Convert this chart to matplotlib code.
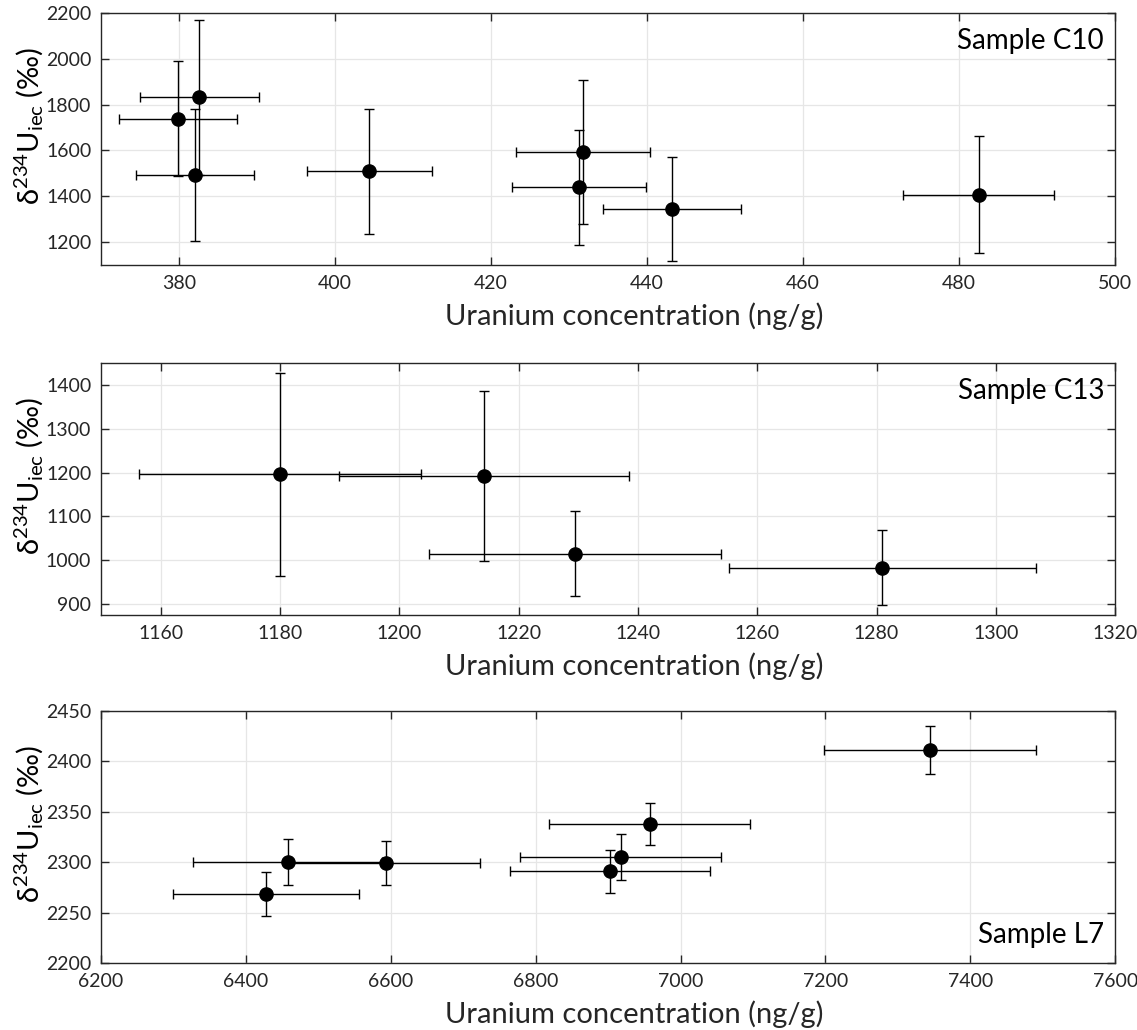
import matplotlib
matplotlib.use('Agg')
import matplotlib.pyplot as plt
import numpy as np

plt.rcParams['font.family'] = ['Lato', 'DejaVu Sans']
plt.rcParams['mathtext.default'] = 'regular'

# Sample C10
c10_x = [379.9, 382.6, 382.05, 404.4, 431.75, 431.3, 443.25, 482.5]
c10_y = [1739, 1832, 1494, 1509, 1593, 1439, 1346, 1407]
c10_xerr = [7.6, 7.65, 7.6, 8.0, 8.6, 8.6, 8.85, 9.65]
c10_yerr = [251, 339, 288, 273, 315, 252, 227, 255]

# Sample C13
c13_x = [1180.0, 1214.2, 1229.5, 1281.0]
c13_y = [1196, 1192, 1015, 983]
c13_xerr = [23.6, 24.3, 24.5, 25.8]
c13_yerr = [231, 194, 97.5, 85]

# Sample L7
l7_x = [6427.5, 6457.5, 6592.8, 6902.4, 6917.4, 6957.5, 7344.3]
l7_y = [2268.5, 2300.5, 2299.2, 2290.9, 2305.5, 2337.6, 2411.6]
l7_xerr = [128, 130, 131, 138, 139, 139, 146]
l7_yerr = [22, 22.6, 22, 21.6, 23, 21, 24]

panels = [
    (c10_x, c10_y, c10_xerr, c10_yerr, (370, 500), (1100, 2200),
     np.arange(380, 501, 20), np.arange(1200, 2201, 200), 'Sample C10', 'top'),
    (c13_x, c13_y, c13_xerr, c13_yerr, (1150, 1320), (875, 1450),
     np.arange(1160, 1321, 20), np.arange(900, 1401, 100), 'Sample C13', 'top'),
    (l7_x, l7_y, l7_xerr, l7_yerr, (6200, 7600), (2200, 2450),
     np.arange(6200, 7601, 200), np.arange(2200, 2451, 50), 'Sample L7', 'bottom'),
]

fig = plt.figure(figsize=(11.37, 10.30), dpi=100)
bottoms = [0.7427, 0.4029, 0.065]

for (x, y, xe, ye, xl, yl, xt, yt, name, where), b in zip(panels, bottoms):
    ax = fig.add_axes([0.0888, b, 0.892, 0.2447])
    ax.errorbar(x, y, xerr=xe, yerr=ye, fmt='o', color='black', ecolor='black',
                elinewidth=1, capsize=3.5, capthick=1, markersize=9.5, zorder=3)
    ax.set_xlim(*xl)
    ax.set_ylim(*yl)
    ax.set_xticks(xt)
    ax.set_yticks(yt)
    ax.grid(True, color='#e6e6e6', linewidth=0.9)
    ax.set_axisbelow(True)
    ax.tick_params(direction='in', length=6, width=1, top=True, right=True,
                   labelsize=14, colors='#262626', pad=7)
    for s in ax.spines.values():
        s.set_color('#262626')
        s.set_linewidth(1)
    ax.set_xlabel('Uranium concentration (ng/g)', fontsize=21, color='#262626')
    ax.xaxis.set_label_coords(0.526, -0.15)
    ax.set_ylabel(r'$δ^{234}U_{iec}$ (‰)', fontsize=21, color='black')
    ax.yaxis.set_label_coords(-0.054, 0.55)
    if where == 'top':
        ax.text(0.989, 0.94, name, transform=ax.transAxes, ha='right', va='top', fontsize=20)
    else:
        ax.text(0.989, 0.06, name, transform=ax.transAxes, ha='right', va='bottom', fontsize=20)

fig.savefig('out.png', dpi=100)
